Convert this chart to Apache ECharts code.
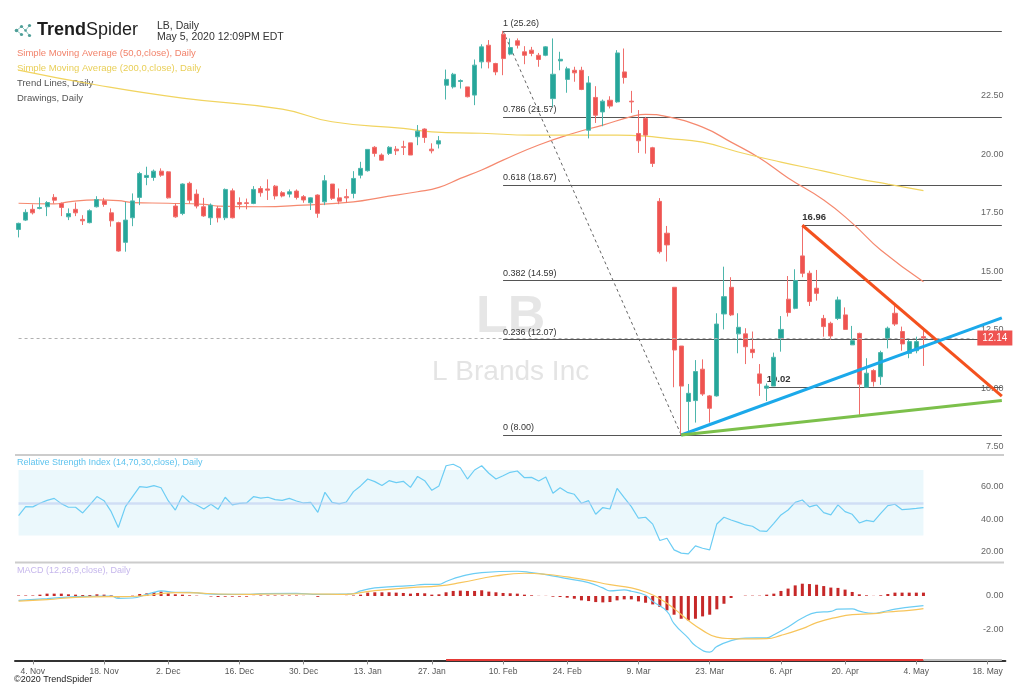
<!DOCTYPE html>
<html><head><meta charset="utf-8">
<script src="https://cdn.jsdelivr.net/npm/echarts@6/dist/echarts.min.js"></script>
<style>html,body{margin:0;padding:0;background:#fff}#c{width:1024px;height:695px}</style>
</head><body><div id="c"></div>
<script>
// ---- categories (trading days) ----
const dates = [
'2019-10-31','2019-11-01','2019-11-04','2019-11-05','2019-11-06','2019-11-07','2019-11-08','2019-11-11','2019-11-12','2019-11-13','2019-11-14','2019-11-15','2019-11-18','2019-11-19','2019-11-20','2019-11-21','2019-11-22','2019-11-25','2019-11-26','2019-11-27','2019-11-29',
'2019-12-02','2019-12-03','2019-12-04','2019-12-05','2019-12-06','2019-12-09','2019-12-10','2019-12-11','2019-12-12','2019-12-13','2019-12-16','2019-12-17','2019-12-18','2019-12-19','2019-12-20','2019-12-23','2019-12-24','2019-12-26','2019-12-27','2019-12-30','2019-12-31',
'2020-01-02','2020-01-03','2020-01-06','2020-01-07','2020-01-08','2020-01-09','2020-01-10','2020-01-13','2020-01-14','2020-01-15','2020-01-16','2020-01-17','2020-01-21','2020-01-22','2020-01-23','2020-01-24','2020-01-27','2020-01-28','2020-01-29','2020-01-30','2020-01-31',
'2020-02-03','2020-02-04','2020-02-05','2020-02-06','2020-02-07','2020-02-10','2020-02-11','2020-02-12','2020-02-13','2020-02-14','2020-02-18','2020-02-19','2020-02-20','2020-02-21','2020-02-24','2020-02-25','2020-02-26','2020-02-27','2020-02-28',
'2020-03-02','2020-03-03','2020-03-04','2020-03-05','2020-03-06','2020-03-09','2020-03-10','2020-03-11','2020-03-12','2020-03-13','2020-03-16','2020-03-17','2020-03-18','2020-03-19','2020-03-20','2020-03-23','2020-03-24','2020-03-25','2020-03-26','2020-03-27','2020-03-30','2020-03-31',
'2020-04-01','2020-04-02','2020-04-03','2020-04-06','2020-04-07','2020-04-08','2020-04-09','2020-04-13','2020-04-14','2020-04-15','2020-04-16','2020-04-17','2020-04-20','2020-04-21','2020-04-22','2020-04-23','2020-04-24','2020-04-27','2020-04-28','2020-04-29','2020-04-30',
'2020-05-01','2020-05-04','2020-05-05','2020-05-06','2020-05-07','2020-05-08','2020-05-11','2020-05-12','2020-05-13','2020-05-14','2020-05-15','2020-05-18','2020-05-19','2020-05-20'
];
const tickDates = ['2019-11-04','2019-11-18','2019-12-02','2019-12-16','2019-12-30','2020-01-13','2020-01-27','2020-02-10','2020-02-24','2020-03-09','2020-03-23','2020-04-06','2020-04-20','2020-05-04','2020-05-18'];
const monthNames = ['Jan','Feb','Mar','Apr','May','Jun','Jul','Aug','Sep','Oct','Nov','Dec'];

// ---- price: [open, close, low, high] ----
const ohlc = [
[16.78,17.04,16.44,17.07],[17.18,17.51,17.14,17.64],[17.64,17.49,17.42,17.85],[17.68,17.72,17.64,18.15],[17.75,17.93,17.35,17.99],
[18.15,18.03,17.89,18.29],[17.89,17.72,17.35,17.93],[17.32,17.46,17.18,17.68],[17.64,17.49,17.35,17.93],[17.21,17.15,16.97,17.39],
[17.07,17.58,17.04,17.64],[17.75,18.06,17.72,18.20],[18.00,17.85,17.75,18.13],[17.49,17.15,16.90,17.68],[17.07,15.86,15.83,17.11],
[16.23,17.18,15.83,17.96],[17.28,18.00,16.92,18.32],[18.15,19.17,17.82,19.24],[19.00,19.09,18.67,19.46],[19.00,19.27,18.86,19.34],
[19.27,19.10,19.03,19.39],[19.24,18.13,18.10,19.27],[17.78,17.32,17.28,17.89],[17.46,18.72,17.39,18.75],[18.75,18.03,17.89,18.82],
[18.29,17.78,17.68,18.49],[17.75,17.36,17.32,18.13],[17.28,17.82,16.97,17.89],[17.68,17.28,17.08,17.78],[17.28,18.49,17.18,18.53],
[18.43,17.28,17.25,18.53],[17.93,17.86,17.64,18.15],[17.92,17.89,17.64,18.10],[17.89,18.49,17.86,18.63],[18.53,18.35,18.18,18.63],
[18.51,18.46,18.04,18.92],[18.63,18.21,18.06,18.68],[18.35,18.21,18.15,18.42],[18.29,18.39,18.15,18.49],[18.42,18.15,18.06,18.49],
[18.18,18.04,17.92,18.25],[17.92,18.13,17.61,18.15],[18.25,17.47,17.28,18.28],[17.96,18.86,17.82,19.10],[18.72,18.11,18.04,18.72],
[18.13,17.99,17.86,18.53],[18.18,18.13,17.92,18.51],[18.32,18.96,18.11,19.27],[19.10,19.39,18.96,19.67],[19.29,20.20,19.25,20.20],
[20.29,20.03,19.89,20.34],[19.96,19.74,19.72,20.03],[20.03,20.29,19.96,20.34],[20.21,20.14,19.96,20.34],[20.31,20.29,19.96,20.57],
[20.48,19.96,19.96,20.48],[20.74,20.98,20.38,21.24],[21.07,20.71,20.48,21.10],[20.21,20.14,20.03,20.46],[20.43,20.57,20.24,20.77],
[22.94,23.19,22.33,23.61],[22.87,23.41,22.80,23.47],[23.10,23.14,22.80,23.19],[22.87,22.45,22.42,22.87],[22.52,23.80,22.09,24.04],
[23.94,24.58,23.66,24.69],[24.65,23.94,23.66,24.87],[23.87,23.51,23.37,23.90],[25.12,24.08,23.37,25.26],[24.27,24.55,24.22,24.94],
[24.84,24.65,24.51,24.94],[24.37,24.22,23.84,24.61],[24.44,24.30,24.18,24.58],[24.22,24.04,23.73,24.32],[24.22,24.58,24.18,24.61],
[22.37,23.41,22.02,24.94],[23.98,24.05,23.58,24.37],[23.19,23.64,22.62,23.73],[23.58,23.47,23.09,23.73],[23.58,22.76,22.73,23.73],
[21.02,23.04,20.67,23.33],[22.42,21.66,21.33,22.90],[21.80,22.26,21.19,22.33],[22.30,22.05,21.95,22.47],[22.23,24.32,22.19,24.44],
[23.51,23.27,23.01,24.51],[22.26,22.23,21.76,22.70],[20.88,20.57,20.05,21.88],[21.52,20.81,20.02,21.59],[20.27,19.60,19.45,20.31],
[17.98,15.83,15.75,18.12],[16.62,16.12,15.41,16.93],[14.31,11.63,10.04,14.31],[11.80,10.09,8.00,11.80],[9.43,9.78,8.14,10.18],
[9.47,10.71,8.53,11.20],[10.81,9.75,9.67,11.23],[9.67,9.14,8.53,9.71],[9.67,12.74,9.64,13.20],[13.17,13.91,12.51,15.19],
[14.31,13.13,13.08,14.74],[12.32,12.60,11.49,13.20],[12.32,11.77,11.03,12.56],[11.66,11.52,11.28,12.42],[10.61,10.21,9.67,11.03],
[10.00,10.09,9.45,10.20],[10.09,11.32,10.09,11.52],[12.13,12.51,11.56,13.08],[13.80,13.23,13.06,14.79],[13.41,14.60,13.37,15.08],
[15.65,14.91,14.74,16.96],[14.91,13.70,13.51,15.02],[14.27,14.05,13.74,15.05],[12.98,12.63,12.20,13.13],[12.77,12.23,12.06,12.84],
[12.98,13.77,12.91,13.91],[13.13,12.51,12.49,13.45],[11.85,12.03,11.85,12.66],[12.34,10.17,8.86,12.37],[10.04,10.64,10.04,11.28],
[10.75,10.28,10.07,10.81],[10.49,11.52,10.14,11.60],[12.13,12.56,11.70,12.63],[13.20,12.74,12.66,13.55],[12.42,11.89,11.60,12.63],
[11.49,11.99,11.28,12.06],[11.60,11.99,11.49,12.20],[12.20,12.14,10.95,12.56]
];
const lastClose = 12.14;

// ---- moving averages: [category index, value] ----
const sma50 = [[0,17.90],[5,17.87],[7,17.96],[11,18.04],[14,18.01],[16,17.93],[21,17.90],[26,17.85],[28,17.78],[34,17.75],[40,17.82],[47,17.96],[51,18.15],[56,18.39],[59,18.58],[62,18.96],[65,19.32],[68,19.74],[73,20.39],[78,20.90],[82,21.24],[86,21.60],[88,21.70],[91,21.60],[96,21.15],[100,20.51],[104,19.83],[108,18.98],[113,18.04],[117,17.05],[121,15.90],[127,14.55]];
const sma200 = [[0,23.59],[11,22.95],[23,22.39],[37,21.92],[44,21.38],[54,21.10],[58,20.95],[65,20.89],[72,20.81],[84,20.81],[88,20.77],[91,20.67],[96,20.51],[101,20.09],[107,19.66],[113,19.27],[118,18.93],[122,18.72],[127,18.44]];

// ---- drawings ----
const fibLevels = ['1','0.786','0.618','0.382','0.236','0'];
const fibPrices = [25.26,21.57,18.67,14.59,12.07,8.00];
const fibStartIdx = 68, lastIdx = 138, lastCandleIdx = 127;
const fibLeg = [[68,25.26],[93,8.00]];
const resistance = [[110,16.96],[138,9.66]];
const supportBlue = [[93,8.00],[138,13.00]];
const supportGreen = [[93,8.00],[138,9.47]];
const pivotIdx = [110,105];
const pivotPrices = [16.96,10.02];

// ---- RSI (14) ----
const rsi = [42.2,47.7,47.5,49.7,51.5,52.7,49.5,47.3,47.3,43.8,
48.7,53.8,51.3,44.6,34.9,47.7,53.8,59.9,59.4,60.5,
59.2,51.3,45.6,54.4,50.3,48.7,46.2,49.1,46.0,53.4,
48.7,49.7,49.9,53.8,52.9,53.4,51.9,51.5,52.7,51.1,
49.9,50.3,44.2,56.4,50.3,49.3,50.5,56.8,60.3,64.5,
62.9,60.5,63.5,62.3,63.1,59.4,66.1,63.5,57.6,60.3,
72.6,73.5,71.4,64.5,70.0,72.6,68.0,64.5,66.5,68.6,
69.4,65.3,65.5,63.3,65.7,55.8,59.2,56.4,55.2,49.7,
51.3,43.0,47.1,46.2,58.8,53.2,47.7,40.6,41.2,37.0,
27.0,28.4,21.3,19.3,18.8,23.7,22.3,21.3,37.1,41.2,
39.5,38.1,36.5,35.7,32.9,32.6,37.5,42.6,45.6,50.3,
51.7,47.5,48.7,44.0,42.6,48.7,44.6,43.0,37.7,39.3,
38.5,43.6,48.3,49.1,45.8,46.2,46.6,47.1];

// ---- MACD (12,26,9) ----
const macdHist = [0.03,0.03,0.03,0.08,0.14,0.14,0.14,0.10,0.08,0.06,
0.06,0.10,0.08,0.04,-0.08,-0.03,0.02,0.12,0.16,0.24,
0.26,0.16,0.10,0.08,0.04,0.02,0.00,-0.03,-0.06,-0.04,
-0.04,-0.04,-0.04,0.01,0.03,0.03,0.03,0.03,0.03,0.03,
0.01,0.00,-0.05,0.00,0.00,0.00,0.01,0.03,0.08,0.20,
0.22,0.22,0.22,0.20,0.18,0.14,0.18,0.16,0.08,0.10,
0.22,0.30,0.32,0.30,0.30,0.34,0.26,0.22,0.18,0.16,
0.14,0.08,0.04,0.01,0.01,-0.04,-0.06,-0.10,-0.16,-0.26,
-0.30,-0.36,-0.38,-0.36,-0.26,-0.20,-0.20,-0.32,-0.40,-0.50,
-0.65,-0.85,-1.11,-1.35,-1.45,-1.35,-1.21,-1.11,-0.79,-0.46,
-0.12,0.00,0.02,0.02,0.02,0.08,0.14,0.30,0.44,0.63,
0.73,0.71,0.67,0.59,0.50,0.48,0.38,0.24,0.10,0.04,
0.01,0.04,0.12,0.20,0.20,0.20,0.20,0.20];
const macdLine = [[0,-0.26],[4,-0.16],[8,-0.04],[13,0.0],[14,-0.14],[16,-0.12],[18,0.1],[19,0.22],[20,0.3],[22,0.22],[24,0.22],[26,0.14],[28,0.1],[32,0.1],[34,0.14],[39,0.16],[42,0.1],[46,0.12],[47,0.14],[48,0.3],[50,0.48],[53,0.57],[55,0.61],[57,0.69],[59,0.69],[60,0.86],[62,1.15],[65,1.39],[70,1.47],[72,1.39],[74,1.27],[77,1.03],[80,0.79],[82,0.48],[83,0.3],[85,0.36],[86,0.28],[88,0.04],[89,-0.32],[91,-0.91],[92,-1.64],[94,-2.5],[95,-2.95],[97,-3.33],[98,-3.0],[100,-2.65],[102,-2.5],[105,-2.48],[106,-2.3],[108,-1.84],[110,-1.31],[112,-0.97],[114,-0.91],[115,-0.78],[117,-0.76],[118,-0.9],[120,-1.03],[121,-0.97],[123,-0.78],[125,-0.66],[127,-0.57]];
const signalLine = [[0,-0.3],[4,-0.22],[8,-0.08],[13,-0.04],[15,-0.04],[18,0.04],[20,0.14],[22,0.2],[25,0.18],[28,0.12],[32,0.1],[36,0.12],[41,0.12],[46,0.1],[48,0.2],[50,0.32],[55,0.5],[59,0.6],[62,0.79],[67,1.19],[71,1.35],[74,1.29],[77,1.13],[80,0.93],[83,0.67],[86,0.48],[88,0.24],[90,-0.16],[92,-0.75],[94,-1.45],[96,-2.04],[98,-2.44],[100,-2.53],[102,-2.55],[105,-2.53],[107,-2.34],[110,-1.94],[112,-1.58],[115,-1.25],[117,-1.11],[120,-1.05],[122,-0.95],[125,-0.85],[127,-0.75]];

// ---- time bar under the axis ----
const axisBarRed = [[60,-3.8],[127,-3.8]];
const axisBarGray = [[127,-3.8],[138,-3.8]];

const FONT = 'Liberation Sans, Arial, sans-serif';
const tickSet = new Set(tickDates);
function fmtDate(v){ const p = v.split('-'); return parseInt(p[2],10) + '. ' + monthNames[parseInt(p[1],10)-1]; }
const GL = 15, GR = 18.6;

const chart = echarts.init(document.getElementById('c'), null, {renderer:'canvas'});

const hiddenX = (gi) => ({type:'category', gridIndex:gi, data:dates, axisLine:{show:false}, axisTick:{show:false}, axisLabel:{show:false}, splitLine:{show:false}});

const fibMarks = fibPrices.map((p,i)=>[
  {coord:[dates[fibStartIdx], p], label:{formatter: fibLevels[i] + ' (' + p.toFixed(2) + ')'}},
  {coord:[dates[lastIdx], p]}
]);
const pivotMarks = pivotPrices.map((p,i)=>[
  {coord:[dates[pivotIdx[i]], p], label:{formatter: p.toFixed(2), fontWeight:'bold', fontSize:9.5, color:'#333'}},
  {coord:[dates[lastIdx], p]}
]);
const priceMark = [[
  {coord:[dates[0], lastClose], lineStyle:{type:[3,3], color:'#b0b0b0', width:1},
   label:{show:true, position:'end', distance:4, formatter: lastClose.toFixed(2), color:'#fff', backgroundColor:'#ef5350', padding:[3,5,2,5], fontSize:10}},
  {coord:[dates[134], lastClose]}
]];

const option = {
  animation:false,
  backgroundColor:'#fff',
  textStyle:{fontFamily:FONT},
  grid:[
    {left:GL, right:GR, top:0, height:446.7},
    {left:GL, right:GR, top:453.6, height:131.2},
    {left:GL, right:GR, top:562.3, height:101.1}
  ],
  xAxis:[
    hiddenX(0), hiddenX(1),
    {type:'category', gridIndex:2, data:dates, offset:-3,
     axisLine:{onZero:false, lineStyle:{color:'#333', width:2}},
     axisTick:{show:true, alignWithLabel:true, length:4, interval:(i,v)=>tickSet.has(v), lineStyle:{color:'#888'}},
     axisLabel:{interval:(i,v)=>tickSet.has(v), formatter:fmtDate, color:'#555', fontSize:8.5, margin:7, fontFamily:FONT},
     splitLine:{show:false}}
  ],
  yAxis:[
    {type:'value', gridIndex:0, position:'right', min:7.5, max:26.582, interval:2.5,
     axisLine:{show:false}, axisTick:{show:false}, splitLine:{show:false},
     axisLabel:{inside:true, margin:2, color:'#666', fontSize:9, padding:[0,0,8,0], showMaxLabel:false,
       formatter:(v)=> v <= 22.5 ? v.toFixed(2) : ''}},
    {type:'value', gridIndex:1, position:'right', min:0, max:80, interval:20,
     axisLine:{show:false}, axisTick:{show:false}, splitLine:{show:false},
     axisLabel:{inside:true, margin:2, color:'#666', fontSize:9,
       formatter:(v)=> (v>=20 && v<=60) ? v.toFixed(2) : ''}},
    {type:'value', gridIndex:2, position:'right', min:-4, max:2, interval:2,
     axisLine:{show:false}, axisTick:{show:false}, splitLine:{show:false},
     axisLabel:{inside:true, margin:2, color:'#666', fontSize:9,
       formatter:(v)=> (v===0 || v===-2) ? v.toFixed(2) : ''}}
  ],
  series:[
    {type:'line', xAxisIndex:0, yAxisIndex:0, data:fibLeg, symbol:'none', z:1,
     lineStyle:{color:'#666', width:1, type:[3,3]},
     markLine:{silent:true, symbol:['none','none'], z:1,
       lineStyle:{color:'#555', width:1, type:'solid'},
       label:{show:true, position:'insideStartTop', distance:[0,3], color:'#333', fontSize:9, fontFamily:FONT},
       data: fibMarks.concat(pivotMarks)}},
    {type:'line', xAxisIndex:0, yAxisIndex:0, data:[[0,lastClose]], symbol:'none', z:1, lineStyle:{opacity:0},
     markLine:{silent:true, symbol:['none','none'], data:priceMark}},
    {type:'line', xAxisIndex:0, yAxisIndex:0, data:sma50, smooth:true, symbol:'none', z:2,
     lineStyle:{color:'#f5896f', width:1.2}},
    {type:'line', xAxisIndex:0, yAxisIndex:0, data:sma200, smooth:true, symbol:'none', z:2,
     lineStyle:{color:'#f1d460', width:1.2}},
    {type:'candlestick', xAxisIndex:0, yAxisIndex:0, data:ohlc, barWidth:4.6, z:3,
     itemStyle:{color:'#26a69a', color0:'#ef5350', borderColor:'#4db6ac', borderColor0:'#f06e6b', borderWidth:1}},
    {type:'line', xAxisIndex:0, yAxisIndex:0, data:resistance, symbol:'none', z:5, lineStyle:{color:'#f4511e', width:3}},
    {type:'line', xAxisIndex:0, yAxisIndex:0, data:supportBlue, symbol:'none', z:5, lineStyle:{color:'#1ba9ea', width:3}},
    {type:'line', xAxisIndex:0, yAxisIndex:0, data:supportGreen, symbol:'none', z:5, lineStyle:{color:'#7cc04b', width:3}},

    {type:'line', xAxisIndex:1, yAxisIndex:1, data:rsi, symbol:'none', z:1, lineStyle:{opacity:0},
     markArea:{silent:true, itemStyle:{color:'rgba(120,205,235,0.15)'},
       data:[[{coord:[dates[0],30]},{coord:[dates[lastCandleIdx],70]}]]},
     markLine:{silent:true, symbol:['none','none'], label:{show:false},
       lineStyle:{color:'rgba(190,205,240,0.6)', width:2.5, type:'solid'},
       data:[[{coord:[dates[0],50]},{coord:[dates[lastCandleIdx],50]}]]}},
    {type:'line', xAxisIndex:1, yAxisIndex:1, data:rsi, symbol:'none', z:4, lineStyle:{color:'#6ccdf4', width:1.2}},

    {type:'bar', xAxisIndex:2, yAxisIndex:2, data:macdHist, barWidth:3, itemStyle:{color:'#c62828'}},
    {type:'line', xAxisIndex:2, yAxisIndex:2, data:macdLine, smooth:true, symbol:'none', z:4, lineStyle:{color:'#6ccdf4', width:1.2}},
    {type:'line', xAxisIndex:2, yAxisIndex:2, data:signalLine, smooth:true, symbol:'none', z:4, lineStyle:{color:'#f7c55c', width:1.2}},
    {type:'line', xAxisIndex:2, yAxisIndex:2, data:axisBarRed, symbol:'none', z:6, lineStyle:{color:'#e53935', width:2}},
    {type:'line', xAxisIndex:2, yAxisIndex:2, data:axisBarGray, symbol:'none', z:6, lineStyle:{color:'#bdbdbd', width:2}}
  ],
  graphic:[
    // panel separators
    {type:'line', silent:true, shape:{x1:15,y1:455,x2:1004,y2:455}, style:{stroke:'#cccccc', lineWidth:2}},
    {type:'line', silent:true, shape:{x1:15,y1:562.5,x2:1004,y2:562.5}, style:{stroke:'#cccccc', lineWidth:2}},
    // watermark
    {type:'text', silent:true, left:476, top:292, z:-1, style:{text:'LB', fill:'#e6e6e6', fontSize:52, fontWeight:'bold', fontFamily:FONT}},
    {type:'text', silent:true, left:432, top:358, z:-1, style:{text:'L Brands Inc', fill:'#e4e4e4', fontSize:28, fontFamily:FONT}},
    // logo
    {type:'group', silent:true, left:14, top:23, children:[
      {type:'line', shape:{x1:3,y1:7,x2:8,y2:3}, style:{stroke:'#8cc5c0', lineWidth:1}},
      {type:'line', shape:{x1:3,y1:7,x2:8,y2:11}, style:{stroke:'#8cc5c0', lineWidth:1}},
      {type:'line', shape:{x1:8,y1:3,x2:12,y2:7}, style:{stroke:'#8cc5c0', lineWidth:1}},
      {type:'line', shape:{x1:12,y1:7,x2:16,y2:2}, style:{stroke:'#8cc5c0', lineWidth:1}},
      {type:'line', shape:{x1:12,y1:7,x2:16,y2:12}, style:{stroke:'#8cc5c0', lineWidth:1}},
      {type:'circle', shape:{cx:3,cy:7,r:1.8}, style:{fill:'#4f9f98'}},
      {type:'circle', shape:{cx:8,cy:3,r:1.6}, style:{fill:'#4f9f98'}},
      {type:'circle', shape:{cx:8,cy:11,r:1.6}, style:{fill:'#4f9f98'}},
      {type:'circle', shape:{cx:12,cy:7,r:1.3}, style:{fill:'#4f9f98'}},
      {type:'circle', shape:{cx:16,cy:2,r:1.6}, style:{fill:'#4f9f98'}},
      {type:'circle', shape:{cx:16,cy:12,r:1.6}, style:{fill:'#4f9f98'}}
    ]},
    {type:'text', silent:true, left:37, top:21, style:{text:'Trend', fill:'#1d1d1d', fontSize:18, fontWeight:'bold', fontFamily:FONT}},
    {type:'text', silent:true, left:86, top:21, style:{text:'Spider', fill:'#1d1d1d', fontSize:18, fontFamily:FONT}},
    {type:'text', silent:true, left:157, top:20.5, style:{text:'LB, Daily', fill:'#333', fontSize:10.5, fontFamily:FONT}},
    {type:'text', silent:true, left:157, top:31.5, style:{text:'May 5, 2020 12:09PM EDT', fill:'#333', fontSize:10.5, fontFamily:FONT}},
    // legend
    {type:'text', silent:true, left:17, top:48, style:{text:'Simple Moving Average (50,0,close), Daily', fill:'#f2836b', fontSize:9.5, fontFamily:FONT}},
    {type:'text', silent:true, left:17, top:63.5, style:{text:'Simple Moving Average (200,0,close), Daily', fill:'#e9cf58', fontSize:9.5, fontFamily:FONT}},
    {type:'text', silent:true, left:17, top:78.5, style:{text:'Trend Lines, Daily', fill:'#555', fontSize:9.5, fontFamily:FONT}},
    {type:'text', silent:true, left:17, top:93.5, style:{text:'Drawings, Daily', fill:'#555', fontSize:9.5, fontFamily:FONT}},
    // panel titles
    {type:'text', silent:true, left:17, top:458, style:{text:'Relative Strength Index (14,70,30,close), Daily', fill:'#5ec3ee', fontSize:9, fontFamily:FONT}},
    {type:'text', silent:true, left:17, top:566, style:{text:'MACD (12,26,9,close), Daily', fill:'#c6b7ec', fontSize:9, fontFamily:FONT}},
    {type:'text', silent:true, left:14, top:675, style:{text:'\u00a92020 TrendSpider', fill:'#222', fontSize:9, fontFamily:FONT}}
  ]
};
chart.setOption(option);
</script>
</body></html>
